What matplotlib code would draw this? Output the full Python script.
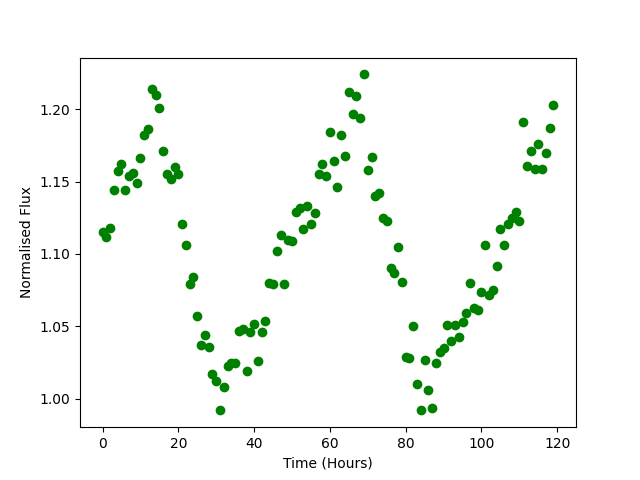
import matplotlib
matplotlib.use("Agg")
import matplotlib.pyplot as plt
import numpy as np

time_hours = np.arange(120)
flux = [
    1.115, 1.112, 1.118, 1.144, 1.157, 1.162, 1.144, 1.154, 1.156, 1.149,
    1.166, 1.182, 1.186, 1.214, 1.210, 1.201, 1.171, 1.155, 1.152, 1.160,
    1.155, 1.121, 1.106, 1.079, 1.084, 1.057, 1.037, 1.044, 1.036, 1.017,
    1.012, 0.992, 1.008, 1.023, 1.025, 1.025, 1.047, 1.048, 1.019, 1.046,
    1.052, 1.026, 1.046, 1.054, 1.080, 1.079, 1.102, 1.113, 1.079, 1.110,
    1.109, 1.129, 1.132, 1.117, 1.133, 1.121, 1.128, 1.155, 1.162, 1.154,
    1.184, 1.164, 1.146, 1.182, 1.168, 1.212, 1.197, 1.209, 1.194, 1.224,
    1.158, 1.167, 1.140, 1.142, 1.125, 1.123, 1.090, 1.087, 1.105, 1.081,
    1.029, 1.028, 1.050, 1.010, 0.992, 1.027, 1.006, 0.994, 1.025, 1.032,
    1.035, 1.051, 1.040, 1.051, 1.043, 1.053, 1.059, 1.080, 1.063, 1.061,
    1.074, 1.106, 1.072, 1.075, 1.092, 1.117, 1.106, 1.121, 1.125, 1.129,
    1.123, 1.191, 1.161, 1.171, 1.159, 1.176, 1.159, 1.170, 1.187, 1.203,
]

fig, ax = plt.subplots(figsize=(6.4, 4.8), dpi=100)
ax.plot(time_hours, flux, 'o', color='green')
ax.set_xlabel('Time (Hours)')
ax.set_ylabel('Normalised Flux')
fig.savefig('out.png')
